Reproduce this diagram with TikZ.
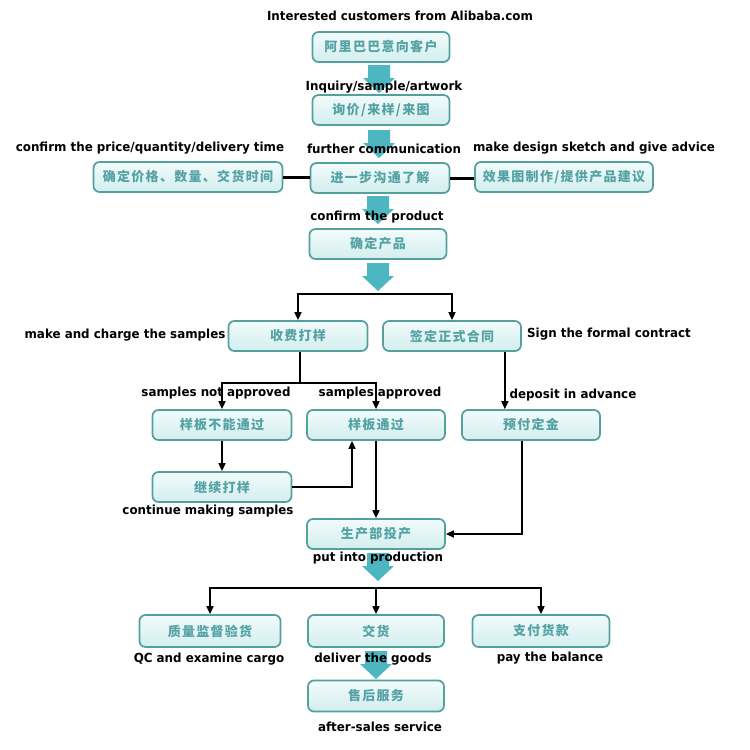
\documentclass[tikz,border=0pt]{standalone}
\usepackage{fontspec}
\usetikzlibrary{arrows.meta}
\newfontfamily\labfont{DejaVu Sans}[FakeStretch=0.95]
\newfontfamily\cjk{Noto Sans CJK SC}[LetterSpace=10]
\definecolor{boxtop}{HTML}{F2FBFB}
\definecolor{boxbot}{HTML}{D3EEEE}
\definecolor{boxline}{HTML}{559F9F}
\definecolor{boxtext}{HTML}{55A2A4}
\definecolor{arrowfill}{HTML}{4DB6C0}
\begin{document}
\begin{tikzpicture}[x=1pt,y=-1pt,
  box/.style={draw=boxline, line width=1.7pt, top color=boxtop, bottom color=boxbot, rounded corners=6pt,
    minimum height=30pt, inner sep=0pt, text=boxtext,
    font=\cjk\bfseries\fontsize{13}{15}\selectfont},
  lab/.style={font=\labfont\bfseries\fontsize{12.5}{14}\selectfont, inner sep=0pt, text=black},
  conn/.style={line width=1.6pt, -{Triangle[length=8pt,width=7pt]}},
  plainline/.style={line width=1.6pt},
  thickconn/.style={line width=3pt},
  bigarrow/.pic={\fill[arrowfill] (-11,0) -- (11,0) -- (11,13) -- (16,13) -- (0,28) -- (-16,13) -- (-11,13) -- cycle;}
]
\useasboundingbox (0,0) rectangle (750,750);
\fill[white] (0,0) rectangle (750,750);

% big arrows
\pic at (379,65) {bigarrow};
\pic at (379,130) {bigarrow};
\pic at (378,196) {bigarrow};
\pic at (378,263) {bigarrow};
\pic at (378,553) {bigarrow};
\pic at (376,651) {bigarrow};

% boxes
\node[box, minimum width=137pt] (b1) at (381,47) {阿里巴巴意向客户};
\node[box, minimum width=137pt] (b2) at (381,110) {询价/来样/来图};
\node[box, minimum width=139pt] (b3) at (380,178) {进一步沟通了解};
\node[box, minimum width=189pt] (b4) at (188,177) {确定价格、数量、交货时间};
\node[box, minimum width=178pt] (b5) at (564,177) {效果图制作/提供产品建议};
\node[box, minimum width=137pt] (b6) at (378,244) {确定产品};
\node[box, minimum width=139pt] (b7) at (298,336) {收费打样};
\node[box, minimum width=138pt] (b8) at (452,336) {签定正式合同};
\node[box, minimum width=139pt] (b9) at (222,425) {样板不能通过};
\node[box, minimum width=138pt] (b10) at (376,425) {样板通过};
\node[box, minimum width=138pt] (b11) at (531,425) {预付定金};
\node[box, minimum width=139pt] (b12) at (222,487) {继续打样};
\node[box, minimum width=138pt] (b13) at (376,534) {生产部投产};
\node[box, minimum width=141pt, minimum height=32pt] (b14) at (210,631) {质量监督验货};
\node[box, minimum width=136pt, minimum height=32pt] (b15) at (376,631) {交货};
\node[box, minimum width=137pt, minimum height=32pt] (b16) at (541,631) {支付货款};
\node[box, minimum width=136pt, minimum height=31pt] (b17) at (376,696) {售后服务};

% junctions
\coordinate (j1) at (378,294);
\coordinate (j2) at (300,383);
\coordinate (j3) at (376,588);

% connectors
\draw[thickconn] (b4.east) -- (b4.east -| b3.west);
\draw[thickconn] (b3.east) -- (b3.east -| b5.west);
\draw[conn] (j1) -| (b7.north);
\draw[conn] (j1) -| (b8.north);
\draw[plainline] (b7.south -| j2) -- (j2);
\draw[conn] (j2) -| (b9.north);
\draw[conn] (j2) -| (b10.north);
\draw[conn] ([xshift=-17pt]b8.south east) -- ([xshift=-17pt]b8.south east |- b11.north);
\draw[conn] (b9) -- (b12);
\draw[conn] (b12.east) -| ([xshift=-24pt]b10.south);
\draw[conn] (b10) -- (b13);
\draw[conn] ([xshift=-9pt]b11.south) |- (b13.east);
\draw[conn] (j3) -| (b14.north);
\draw[conn] (j3) -- (b15.north);
\draw[conn] (j3) -| (b16.north);

% labels
\node[lab] (l1) at (400,16) {Interested customers from Alibaba.com};
\node[lab] (l2) at (384,87) {Inquiry/sample/artwork};
\node[lab] (l3) at (150,148) {confirm the price/quantity/delivery time};
\node[lab] (l4) at (384,149) {further communication};
\node[lab] (l5) at (594,148) {make design sketch and give advice};
\node[lab] (l6) at (377,217) {confirm the product};
\node[lab] (l7) at (125,335) {make and charge the samples};
\node[lab] (l8) at (609,334) {Sign the formal contract};
\node[lab] (l9) at (216,393) {samples not approved};
\node[lab] (l10) at (380,393) {samples approved};
\node[lab] (l11) at (573,395) {deposit in advance};
\node[lab] (l12) at (208,511) {continue making samples};
\node[lab] (l13) at (378,558) {put into production};
\node[lab] (l14) at (209,659) {QC and examine cargo};
\node[lab] (l15) at (373,659) {deliver the goods};
\node[lab] (l16) at (550,658) {pay the balance};
\node[lab] (l17) at (380,727) {after-sales service};
\end{tikzpicture}
\end{document}
